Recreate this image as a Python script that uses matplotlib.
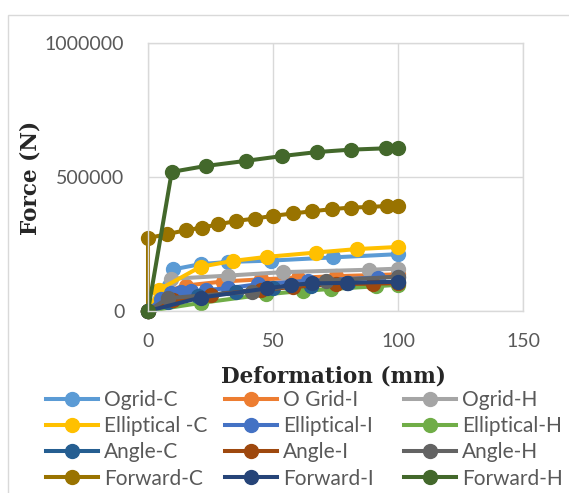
import matplotlib
matplotlib.use("Agg")
import matplotlib.pyplot as plt
from matplotlib.patches import Rectangle
from matplotlib.lines import Line2D

# ---- data ----
labels = ["Ogrid-C", "O Grid-I", "Ogrid-H",
          "Elliptical -C", "Elliptical-I", "Elliptical-H",
          "Angle-C", "Angle-I", "Angle-H",
          "Forward-C", "Forward-I", "Forward-H"]
colors = ["#5B9BD5", "#ED7D31", "#A5A5A5",
          "#FFC000", "#4472C4", "#70AD47",
          "#255E91", "#9E480E", "#636363",
          "#997300", "#264478", "#43682B"]

ogrid_c_x = [0, 10, 21, 32, 49, 74, 100]
ogrid_c_y = [0, 155e3, 175e3, 183e3, 188e3, 200e3, 212e3]
ogrid_i_x = [0, 6, 15, 30, 45, 60, 75, 90, 100]
ogrid_i_y = [0, 70e3, 95e3, 110e3, 118e3, 124e3, 130e3, 134e3, 137e3]
ogrid_h_x = [0, 9, 32, 54, 88.5, 100]
ogrid_h_y = [0, 120e3, 132e3, 145e3, 154e3, 158e3]
ell_c_x = [0, 4.5, 21, 34, 47.5, 67, 83.5, 100]
ell_c_y = [0, 80e3, 165e3, 187e3, 202e3, 218e3, 231e3, 239e3]
ell_i_x = [0, 5, 9, 13, 17, 23, 32, 44, 64, 92, 100]
ell_i_y = [0, 45e3, 66e3, 70e3, 73e3, 78e3, 85e3, 100e3, 113e3, 125e3, 128e3]
ell_h_x = [0, 21, 47, 62, 73, 91, 100]
ell_h_y = [0, 30e3, 62e3, 75e3, 82e3, 92e3, 98e3]
ang_c_x = [0, 8, 20, 35, 50, 65, 80, 100]
ang_c_y = [0, 35e3, 55e3, 72e3, 85e3, 95e3, 103e3, 110e3]
ang_i_x = [0, 10, 25, 45, 58, 75, 90, 100]
ang_i_y = [0, 40e3, 60e3, 78e3, 90e3, 100e3, 102e3, 104e3]
ang_h_x = [0, 8, 41.5, 71, 100]
ang_h_y = [0, 48e3, 72e3, 113e3, 128e3]
fwd_c_x = [0, 0, 7.7, 15, 21.5, 28, 35.3, 42.8, 50, 58, 65.5, 73.5, 81, 88.5, 95.5, 100]
fwd_c_y = [0, 272e3, 287e3, 301e3, 311e3, 323e3, 336e3, 345e3, 355e3, 364e3,
           372e3, 380e3, 386e3, 388e3, 392e3, 392e3]
fwd_i_x = [0, 21, 47.5, 57, 65.5, 79.5, 100]
fwd_i_y = [0, 50e3, 84e3, 97e3, 103e3, 105e3, 109e3]
fwd_h_x = [0, 9.5, 23, 39, 53.5, 67.5, 81, 95, 100]
fwd_h_y = [0, 519e3, 541e3, 560e3, 578e3, 593e3, 602e3, 607e3, 608e3]

series_x = [ogrid_c_x, ogrid_i_x, ogrid_h_x, ell_c_x, ell_i_x, ell_h_x,
            ang_c_x, ang_i_x, ang_h_x, fwd_c_x, fwd_i_x, fwd_h_x]
series_y = [ogrid_c_y, ogrid_i_y, ogrid_h_y, ell_c_y, ell_i_y, ell_h_y,
            ang_c_y, ang_i_y, ang_h_y, fwd_c_y, fwd_i_y, fwd_h_y]

x_ticks = [0, 50, 100, 150]
y_ticks = [0, 500000, 1000000]
x_title = "Deformation (mm)"
y_title = "Force (N)"

# ---- figure ----
W, H = 569, 493
fig = plt.figure(figsize=(W / 100, H / 100), dpi=100)
fig.patches.append(Rectangle((8 / W, -0.1), 1.2, 1 - 15 / H + 0.1,
                             transform=fig.transFigure, fill=False,
                             edgecolor="#D9D9D9", linewidth=1.0))

ax = fig.add_axes([148 / W, 1 - 311 / H, (523 - 148) / W, (311 - 43) / H])
grid_c = "#D9D9D9"
lw = 2.9
ms = 10
for xs, ys, c, lab in zip(series_x, series_y, colors, labels):
    ax.plot(xs, ys, color=c, lw=lw, marker="o", ms=ms, label=lab,
            solid_capstyle="round", clip_on=False)

ax.set_xlim(0, 150)
ax.set_ylim(0, 1000000)
ax.set_xticks(x_ticks)
ax.set_yticks(y_ticks)
ax.set_xticklabels([str(v) for v in x_ticks])
ax.set_yticklabels([str(v) for v in y_ticks])
ax.grid(True, color=grid_c, lw=1.0)
ax.set_axisbelow(True)
for s in ax.spines.values():
    s.set_color(grid_c)
    s.set_linewidth(1.0)
ax.tick_params(length=0, labelsize=14, labelcolor="#595959")
ax.tick_params(axis="x", pad=16)
ax.tick_params(axis="y", pad=17)
for t in ax.get_xticklabels() + ax.get_yticklabels():
    t.set_family("Lato")

fig.text(333 / W, 1 - 383 / H, x_title, ha="center", va="baseline",
         family="DejaVu Serif", fontweight="bold", fontsize=15.5, color="#262626")
fig.text(30 / W, 1 - 178 / H, y_title, ha="center", va="center", rotation=90,
         family="DejaVu Serif", fontweight="bold", fontsize=15.5, color="#262626")

# legend: three columns placed like Excel
col_x = [46, 225, 404]
for ci in range(3):
    hs = []
    labs = []
    for ri in range(4):
        k = ri * 3 + ci
        hs.append(Line2D([], [], color=colors[k], lw=lw, marker="o", ms=ms))
        labs.append(labels[k])
    leg = fig.legend(hs, labs, loc="upper left",
                     bbox_to_anchor=(col_x[ci] / W, 1 - 390 / H),
                     frameon=False, prop={"family": "Lato", "size": 15},
                     handlelength=2.5, handletextpad=0.3, labelspacing=0.3,
                     borderpad=0, borderaxespad=0)
    for t in leg.get_texts():
        t.set_color("#595959")

fig.savefig("out.png", dpi=100)
